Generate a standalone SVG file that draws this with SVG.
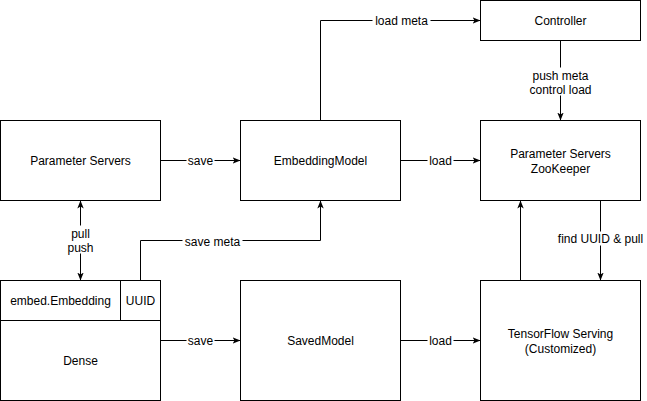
<svg xmlns="http://www.w3.org/2000/svg" width="647" height="401" viewBox="0 0 647 401">
<style>
.box{fill:#fff;stroke:#000;stroke-width:1}
.ln{fill:none;stroke:#000;stroke-width:1}
text{font-family:"Liberation Sans",Arial,sans-serif;font-size:12px;fill:#000;text-anchor:middle}
.lbl{fill:#fff;stroke:none}
</style>
<defs>
<marker id="ah" viewBox="0 0 10 10" refX="10" refY="5" markerWidth="8" markerHeight="8" markerUnits="userSpaceOnUse" orient="auto-start-reverse">
<path d="M0,1 L10,5 L0,9 L2.5,5 Z" fill="#000"/>
</marker>
</defs>
<rect width="647" height="401" fill="#fff"/>
<g transform="translate(0.5,0.5)">
<g id="connectors">
<path class="ln" d="M80,200 L80,280" marker-start="url(#ah)" marker-end="url(#ah)"/>
<rect class="lbl" x="64" y="225" width="32" height="28"/>
<text x="80" y="237">pull</text>
<text x="80" y="251">push</text>
<path class="ln" d="M160,160 L240,160" marker-end="url(#ah)"/>
<rect class="lbl" x="186" y="153" width="28" height="14"/>
<text x="200" y="164">save</text>
<path class="ln" d="M400,160 L480,160" marker-end="url(#ah)"/>
<rect class="lbl" x="427" y="153" width="26" height="14"/>
<text x="440" y="164">load</text>
<path class="ln" d="M320,120 L320,20 L480,20" marker-end="url(#ah)"/>
<rect class="lbl" x="372" y="13" width="58" height="14"/>
<text x="401" y="24">load meta</text>
<path class="ln" d="M560,40 L560,120" marker-end="url(#ah)"/>
<rect class="lbl" x="527" y="67" width="66" height="28"/>
<text x="560" y="79">push meta</text>
<text x="560" y="93">control load</text>
<path class="ln" d="M140,280 L140,240 L320,240 L320,200" marker-end="url(#ah)"/>
<rect class="lbl" x="182" y="234" width="60" height="14"/>
<text x="212" y="245">save meta</text>
<path class="ln" d="M160,340 L240,340" marker-end="url(#ah)"/>
<rect class="lbl" x="186" y="333" width="28" height="14"/>
<text x="200" y="344">save</text>
<path class="ln" d="M400,340 L480,340" marker-end="url(#ah)"/>
<rect class="lbl" x="427" y="333" width="26" height="14"/>
<text x="440" y="344">load</text>
<path class="ln" d="M520,280 L520,200" marker-end="url(#ah)"/>
<path class="ln" d="M600,200 L600,280" marker-end="url(#ah)"/>
<rect class="lbl" x="553" y="231" width="94" height="14"/>
<text x="600" y="242">find UUID &amp; pull</text>
</g>
<g id="ps">
<rect class="box" x="0" y="120" width="160" height="80"/>
<text x="80" y="164">Parameter Servers</text>
</g>
<g id="embeddingmodel">
<rect class="box" x="240" y="120" width="160" height="80"/>
<text x="320" y="164">EmbeddingModel</text>
</g>
<g id="controller">
<rect class="box" x="480" y="0" width="160" height="40"/>
<text x="560" y="24">Controller</text>
</g>
<g id="pszk">
<rect class="box" x="480" y="120" width="160" height="80"/>
<text x="560" y="157">Parameter Servers</text>
<text x="560" y="172">ZooKeeper</text>
</g>
<g id="embed">
<rect class="box" x="0" y="280" width="120" height="40"/>
<text x="60" y="304">embed.Embedding</text>
</g>
<g id="uuid">
<rect class="box" x="120" y="280" width="40" height="40"/>
<text x="140" y="304">UUID</text>
</g>
<g id="dense">
<rect class="box" x="0" y="320" width="160" height="80"/>
<text x="80" y="364">Dense</text>
</g>
<g id="savedmodel">
<rect class="box" x="240" y="280" width="160" height="120"/>
<text x="320" y="344">SavedModel</text>
</g>
<g id="tfs">
<rect class="box" x="480" y="280" width="160" height="120"/>
<text x="560" y="337">TensorFlow Serving</text>
<text x="560" y="352">(Customized)</text>
</g>
</g>
</svg>
